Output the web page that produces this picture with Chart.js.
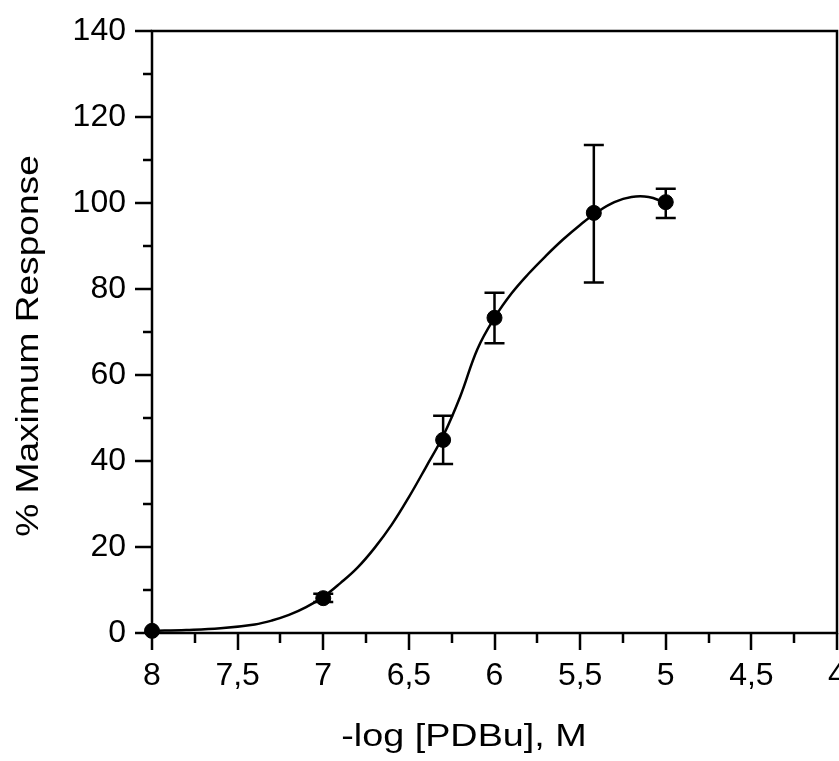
<!DOCTYPE html>
<html>
<head>
<meta charset="utf-8">
<script src="https://cdn.jsdelivr.net/npm/chart.js@4.4.1/dist/chart.umd.min.js"></script>
<style>
  html, body { margin: 0; padding: 0; background: #fff; overflow: hidden; }
  canvas { display: block; }
</style>
</head>
<body>
<canvas id="doseChart" width="860" height="761"></canvas>
<script>
// tick labels
const xTickValues = [8, 7.5, 7, 6.5, 6, 5.5, 5, 4.5, 4];
const xTickLabels = ['8', '7,5', '7', '6,5', '6', '5,5', '5', '4,5', '4'];
const yTickValues = [0, 20, 40, 60, 80, 100, 120, 140];
const yTickLabels = ['0', '20', '40', '60', '80', '100', '120', '140'];

// measured points (mean +/- error)
const doseX = [8, 7, 6.3, 6, 5.42, 5];
const responseY = [0.5, 8.1, 44.9, 73.3, 97.7, 100.2];
const errLow = [null, 7.2, 39.3, 67.4, 81.5, 96.5];
const errHigh = [null, 9.1, 50.5, 79.1, 113.5, 103.3];

// fitted curve
const fitX = [8, 7.8, 7.6, 7.4, 7.3, 7.2, 7.1, 7, 6.9, 6.8, 6.7, 6.6, 6.5, 6.4, 6.3, 6.2, 6.1,
              6, 5.9, 5.8, 5.7, 5.6, 5.5, 5.4, 5.3, 5.2, 5.1, 5.01];
const fitY = [0.5, 0.7, 1.1, 2.0, 2.9, 4.2, 6.0, 8.4, 11.6, 15.2, 19.8, 25.2, 31.6, 38.6, 45.8, 55.0, 66.0,
              73.3, 79.0, 83.6, 87.7, 91.5, 94.9, 97.9, 100.2, 101.4, 101.4, 100.2];

const FONT = '"Liberation Sans", Arial, Helvetica, sans-serif';

const framePlugin = {
    id: 'frame',
    afterDatasetsDraw(chart) {
        const ctx = chart.ctx;
        const xs = chart.scales.x, ys = chart.scales.y;
        ctx.save();
        ctx.strokeStyle = '#000';
        ctx.lineWidth = 2.5;
        for (let i = 0; i < doseX.length; i++) {
            if (errLow[i] == null) continue;
            const px = xs.getPixelForValue(doseX[i]);
            const lo = ys.getPixelForValue(errLow[i]);
            const hi = ys.getPixelForValue(errHigh[i]);
            ctx.beginPath();
            ctx.moveTo(px, lo); ctx.lineTo(px, hi);
            ctx.moveTo(px - 10, lo); ctx.lineTo(px + 10, lo);
            ctx.moveTo(px - 10, hi); ctx.lineTo(px + 10, hi);
            ctx.stroke();
        }
        ctx.restore();
    },
    afterDraw(chart) {
        const ctx = chart.ctx;
        const a = chart.chartArea;
        const xs = chart.scales.x, ys = chart.scales.y;
        ctx.save();
        ctx.strokeStyle = '#000';
        ctx.lineWidth = 2.5;
        ctx.strokeRect(a.left, a.top, a.right - a.left, a.bottom - a.top);

        ctx.beginPath();
        for (let v = 4; v <= 8.001; v += 0.25) {
            const px = Math.round(xs.getPixelForValue(v));
            const major = Math.abs(v * 2 - Math.round(v * 2)) < 0.01;
            ctx.moveTo(px, a.bottom);
            ctx.lineTo(px, a.bottom + (major ? 17 : 10));
        }
        for (let v = 0; v <= 140; v += 10) {
            const py = Math.round(ys.getPixelForValue(v));
            const major = v % 20 === 0;
            ctx.moveTo(a.left, py);
            ctx.lineTo(a.left - (major ? 17 : 9), py);
        }
        ctx.stroke();

        // axis titles (wide lettering as in the original)
        ctx.fillStyle = '#000';
        ctx.font = '32px ' + FONT;
        ctx.textAlign = 'center';
        ctx.textBaseline = 'alphabetic';
        ctx.save();
        ctx.translate(464, 746);
        ctx.scale(1.18, 1);
        ctx.fillText('-log [PDBu], M', 0, 0);
        ctx.restore();
        ctx.translate(38, 346);
        ctx.rotate(-Math.PI / 2);
        ctx.scale(1.16, 1);
        ctx.fillText('% Maximum Response', 0, 0);
        ctx.restore();
    }
};

const ctx = document.getElementById('doseChart').getContext('2d');

new Chart(ctx, {
    type: 'scatter',
    data: {
        datasets: [
            {
                type: 'line',
                data: fitX.map((x, i) => ({ x: x, y: fitY[i] })),
                borderColor: '#000',
                borderWidth: 2.5,
                pointRadius: 0,
                fill: false,
                tension: 0.4,
                clip: false
            },
            {
                data: doseX.map((x, i) => ({ x: x, y: responseY[i] })),
                backgroundColor: '#000',
                borderColor: '#000',
                pointRadius: 7.5,
                pointHoverRadius: 7.5,
                clip: false
            }
        ]
    },
    options: {
        responsive: false,
        animation: false,
        events: [],
        layout: { padding: { top: 31, right: 23, left: 0, bottom: 0 } },
        plugins: { legend: { display: false }, tooltip: { enabled: false } },
        scales: {
            x: {
                type: 'linear',
                min: 4,
                max: 8,
                reverse: true,
                border: { display: false },
                grid: { display: false, drawTicks: false },
                afterBuildTicks: s => { s.ticks = xTickValues.map(v => ({ value: v })); },
                afterFit: s => {
                    s.height = 128;
                    s.paddingLeft = 0; s.paddingRight = 0;
                },
                ticks: {
                    autoSkip: false,
                    maxRotation: 0,
                    padding: 24,
                    color: '#000',
                    font: { family: FONT, size: 32 },
                    callback: (v, i) => xTickLabels[i]
                }
            },
            y: {
                type: 'linear',
                min: 0,
                max: 140,
                border: { display: false },
                grid: { display: false, drawTicks: false },
                afterBuildTicks: s => { s.ticks = yTickValues.map(v => ({ value: v })); },
                afterFit: s => {
                    s.width = 152;
                    s.paddingTop = 0; s.paddingBottom = 0;
                },
                ticks: {
                    autoSkip: false,
                    padding: 26,
                    color: '#000',
                    font: { family: FONT, size: 32 },
                    callback: (v, i) => yTickLabels[i]
                }
            }
        }
    },
    plugins: [framePlugin]
});
</script>
</body>
</html>
